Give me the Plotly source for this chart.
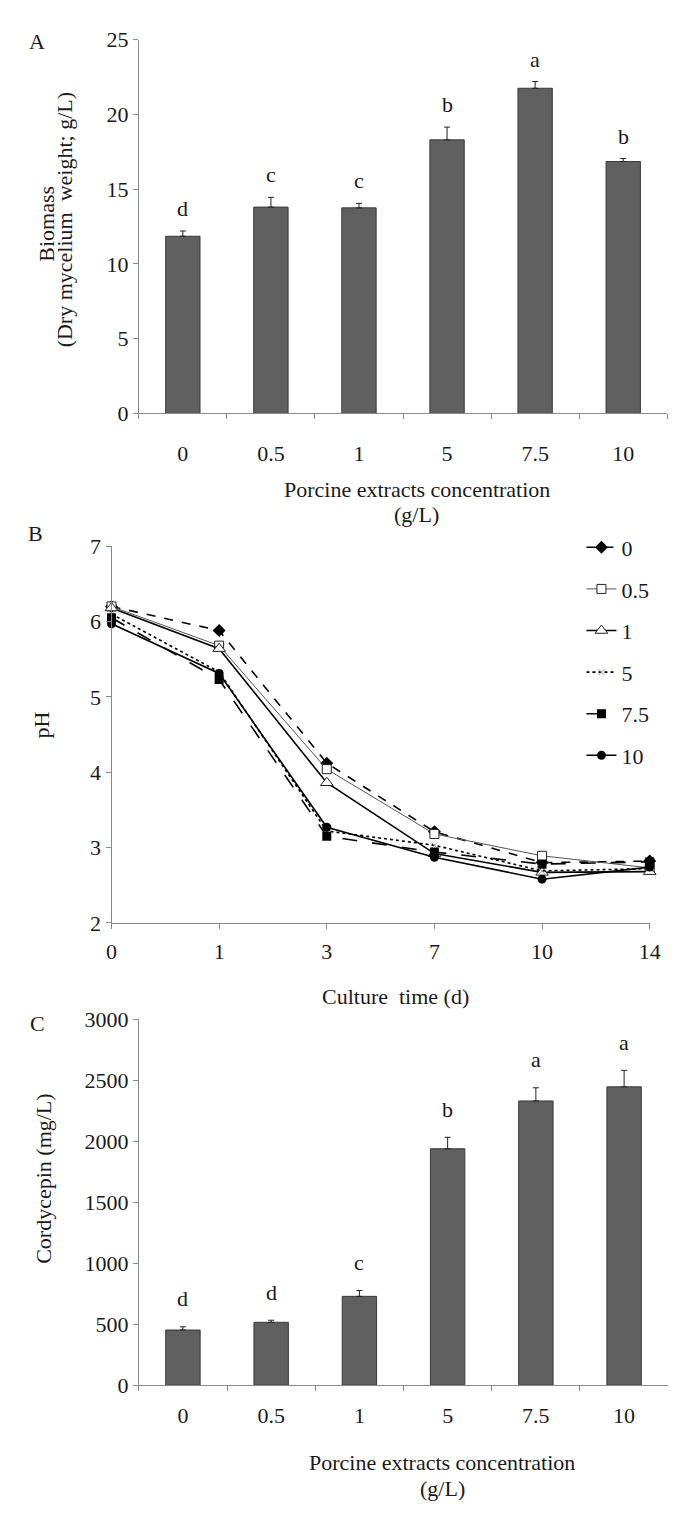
import plotly.graph_objects as go

# ---------------- data ----------------
conc_labels = ["0", "0.5", "1", "5", "7.5", "10"]

biomass = [11.85, 13.8, 13.75, 18.3, 21.75, 16.85]
biomass_err = [0.35, 0.65, 0.3, 0.85, 0.45, 0.2]
biomass_letters = ["d", "c", "c", "b", "a", "b"]

days = ["0", "1", "3", "7", "10", "14"]
ph_0 = [6.20, 5.88, 4.12, 3.21, 2.80, 2.82]
ph_05 = [6.20, 5.68, 4.04, 3.18, 2.89, 2.73]
ph_1 = [6.18, 5.64, 3.86, 2.92, 2.67, 2.68]
ph_5 = [6.10, 5.33, 3.22, 3.03, 2.69, 2.72]
ph_75 = [6.05, 5.23, 3.15, 2.94, 2.78, 2.81]
ph_10 = [5.97, 5.31, 3.27, 2.87, 2.58, 2.74]

cordycepin = [452, 515, 728, 1938, 2330, 2446]
cordycepin_err = [26, 17, 48, 94, 108, 135]
cordycepin_letters = ["d", "d", "c", "b", "a", "a"]

# ---------------- style ----------------
W, H = 680, 1517
FONT = "Liberation Serif, Times New Roman, serif"
FS = 22
TXT = "#1a1a1a"
AX = "#8a8a8a"
BAR = "#606060"


def px_x(p):
    return p / W


def px_y(p):
    return 1 - p / H


fig = go.Figure()

# Panel A bars
fig.add_trace(go.Bar(
    x=conc_labels, y=biomass, xaxis="x", yaxis="y",
    marker=dict(color=BAR, line=dict(color="#3a3a3a", width=1)),
    error_y=dict(type="data", symmetric=False, array=biomass_err,
                 arrayminus=[0] * len(biomass_err), color="#222", thickness=1, width=3),
    width=0.39, showlegend=False,
))

# Panel B lines
series = [
    ("0", ph_0, dict(color="black", width=1.6, dash="dash"),
     dict(symbol="diamond", size=10, color="black")),
    ("0.5", ph_05, dict(color="#555", width=1),
     dict(symbol="square", size=9, color="white", line=dict(color="#222", width=1))),
    ("1", ph_1, dict(color="black", width=1.6),
     dict(symbol="triangle-up", size=11, color="white", line=dict(color="#222", width=1))),
    ("5", ph_5, dict(color="black", width=1.6, dash="dot"),
     dict(symbol="x-thin-open", size=6, color="#999", line=dict(color="#999", width=1))),
    ("7.5", ph_75, dict(color="black", width=1.6, dash="longdash"),
     dict(symbol="square", size=9, color="black")),
    ("10", ph_10, dict(color="black", width=1.6),
     dict(symbol="circle", size=9, color="black")),
]
for name, vals, line, marker in series:
    fig.add_trace(go.Scatter(
        x=list(range(len(days))), y=vals, xaxis="x2", yaxis="y2",
        mode="lines+markers", name=name, line=line, marker=marker,
        cliponaxis=False, legendgroup=name,
    ))

# Panel C bars
fig.add_trace(go.Bar(
    x=conc_labels, y=cordycepin, xaxis="x3", yaxis="y3",
    marker=dict(color=BAR, line=dict(color="#3a3a3a", width=1)),
    error_y=dict(type="data", symmetric=False, array=cordycepin_err,
                 arrayminus=[0] * len(cordycepin_err), color="#222", thickness=1, width=3),
    width=0.39, showlegend=False,
))

axis_common = dict(
    showline=True, linecolor=AX, linewidth=1, ticks="outside", tickcolor=AX,
    ticklen=5, showgrid=False, zeroline=False,
    tickfont=dict(family=FONT, size=FS, color=TXT),
)

annotations = []
# significance letters (category index positions)
for i, (v, e, t) in enumerate(zip(biomass, biomass_err, biomass_letters)):
    annotations.append(dict(x=i, y=v + e + 1.5, xref="x", yref="y",
                            text=t, showarrow=False,
                            font=dict(family=FONT, size=FS, color=TXT)))
for i, (v, e, t) in enumerate(zip(cordycepin, cordycepin_err, cordycepin_letters)):
    annotations.append(dict(x=i, y=v + e + 230, xref="x3", yref="y3",
                            text=t, showarrow=False,
                            font=dict(family=FONT, size=FS, color=TXT)))


def label(text, x, y, angle=0):
    annotations.append(dict(x=px_x(x), y=px_y(y), xref="paper", yref="paper",
                            text=text, showarrow=False, textangle=angle,
                            xanchor="center", yanchor="middle",
                            font=dict(family=FONT, size=FS, color=TXT)))


# panel letters
label("A", 24, 22)
label("B", 22, 522)
label("C", 24, 1020)
# axis titles
label("Biomass", 33, 207, angle=-90)
label("(Dry mycelium  weight; g/L)", 52, 203, angle=-90)
label("Porcine extracts concentration", 413, 477)
label("(g/L)", 413, 503)
label("pH", 28, 717, angle=-90)
label("Culture  time (d)", 391, 993)
label("Cordycepin (mg/L)", 30, 1178, angle=-90)
label("Porcine extracts concentration", 439, 1467)
label("(g/L)", 439, 1493)

n = len(conc_labels)
fig.update_layout(
    width=W, height=H,
    margin=dict(l=0, r=0, t=0, b=0),
    paper_bgcolor="white", plot_bgcolor="white",
    font=dict(family=FONT, size=FS, color=TXT),
    xaxis=dict(axis_common, domain=[px_x(128), px_x(670)], anchor="y",
               type="category", tickson="boundaries", ticklabelstandoff=20,
               range=[-0.5, n - 0.5]),
    yaxis=dict(axis_common, domain=[px_y(400), px_y(20)], anchor="x",
               range=[0, 25], dtick=5),
    xaxis2=dict(axis_common, domain=[px_x(100), px_x(652)], anchor="y2",
                range=[0, 5], tickvals=list(range(len(days))), ticktext=days,
                ticklabelstandoff=4),
    yaxis2=dict(axis_common, domain=[px_y(918), px_y(535)], anchor="x2",
                range=[2, 7], dtick=1),
    xaxis3=dict(axis_common, domain=[px_x(128), px_x(671)], anchor="y3",
                type="category", tickson="boundaries", ticklabelstandoff=10,
                range=[-0.5, n - 0.5]),
    yaxis3=dict(axis_common, domain=[px_y(1388), px_y(1016)], anchor="x3",
                range=[0, 3000], dtick=500),
    legend=dict(x=px_x(582), y=px_y(515), xanchor="left", yanchor="top",
                bgcolor="rgba(0,0,0,0)", tracegroupgap=10, itemwidth=30,
                font=dict(family=FONT, size=FS, color=TXT)),
    annotations=annotations,
)

fig.write_html("out.html")
